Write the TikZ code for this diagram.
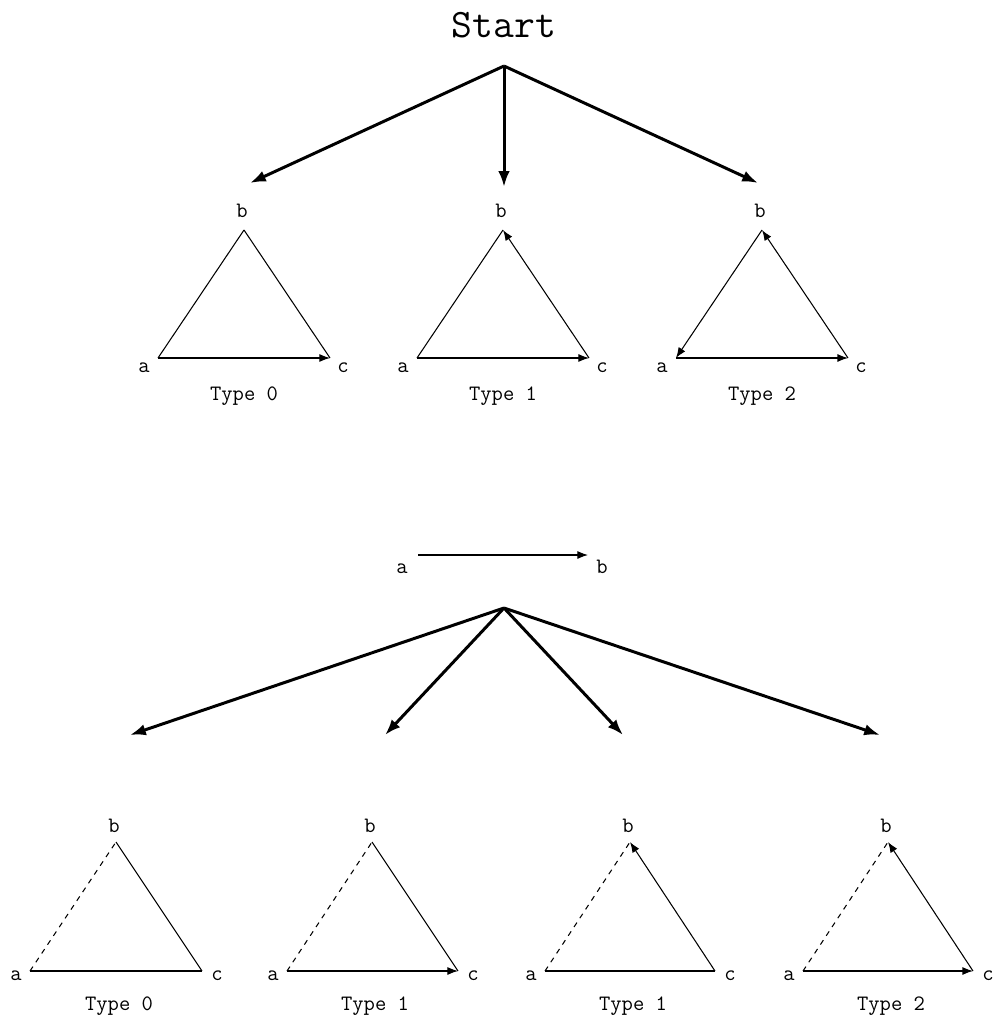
\documentclass[tikz,border=0pt]{standalone}
\usepackage{tikz}
\usetikzlibrary{arrows.meta}

\begin{document}
\begin{tikzpicture}[
  x=0.02cm, y=-0.02cm,
  lbl/.style={font=\fontsize{12.5}{14}\selectfont\ttfamily, anchor=base},
  title/.style={font=\fontsize{23}{27}\selectfont\ttfamily, anchor=base},
  branch/.style={-{Latex[length=9pt,width=6.5pt]}, line width=1.7pt},
  edge/.style={line width=0.6pt},
  dir/.style={edge, -{Latex[length=6pt,width=4.5pt]}},
  unk/.style={edge, dashed}
]
\useasboundingbox (0,0) rectangle (998,1023);

% top: start and the three types
\node[title] (start) at (504,38) {Start};
\coordinate (root1) at (504,66);
\coordinate (tip10) at (250,183);
\coordinate (tip11) at (504,187);
\coordinate (tip12) at (758,183);
\draw[branch] (root1) -- (tip10);
\draw[branch] (root1) -- (tip11);
\draw[branch] (root1) -- (tip12);

\coordinate (ua) at (158,358); \coordinate (ub) at (244,230); \coordinate (uc) at (330,358);
\coordinate (va) at (417,358); \coordinate (vb) at (503,230); \coordinate (vc) at (589,358);
\coordinate (wa) at (676,358); \coordinate (wb) at (762,230); \coordinate (wc) at (848,358);

\node[lbl] (ualbl) at (144,373) {a};
\node[lbl] (ublbl) at (242,218) {b};
\node[lbl] (uclbl) at (343,373) {c};
\node[lbl] (utype) at (244,400) {Type 0};
\node[lbl] (valbl) at (403,373) {a};
\node[lbl] (vblbl) at (501,218) {b};
\node[lbl] (vclbl) at (602,373) {c};
\node[lbl] (vtype) at (503,400) {Type 1};
\node[lbl] (walbl) at (662,373) {a};
\node[lbl] (wblbl) at (760,218) {b};
\node[lbl] (wclbl) at (861,373) {c};
\node[lbl] (wtype) at (762,400) {Type 2};

\draw[edge] (ub) -- (ua);
\draw[edge] (ub) -- (uc);
\draw[dir] (ua) -- (uc);
\draw[edge] (va) -- (vb);
\draw[dir] (va) -- (vc);
\draw[dir] (vc) -- (vb);
\draw[dir] (wb) -- (wa);
\draw[dir] (wa) -- (wc);
\draw[dir] (wc) -- (wb);

% bottom: a -> b given, four types
\node[lbl] (ablbl) at (402,573) {a};
\node[lbl] (bblbl) at (602,573) {b};
\coordinate (abtail) at (418,555);
\coordinate (abtip) at (588,555);
\draw[dir] (abtail) -- (abtip);

\coordinate (root2) at (504,608);
\coordinate (tip20) at (130,735);
\coordinate (tip21) at (385,735);
\coordinate (tip22) at (623,735);
\coordinate (tip23) at (880,735);
\draw[branch] (root2) -- (tip20);
\draw[branch] (root2) -- (tip21);
\draw[branch] (root2) -- (tip22);
\draw[branch] (root2) -- (tip23);

\coordinate (pa) at (30,971);  \coordinate (pb) at (116,842); \coordinate (pc) at (202,971);
\coordinate (qa) at (287,971); \coordinate (qb) at (372,842); \coordinate (qc) at (458,971);
\coordinate (ra) at (545,971); \coordinate (rb) at (630,842); \coordinate (rc) at (715,971);
\coordinate (sa) at (803,971); \coordinate (sb) at (888,842); \coordinate (sc) at (973,971);

\node[lbl] (palbl) at (16,980) {a};
\node[lbl] (pblbl) at (114,832) {b};
\node[lbl] (pclbl) at (217,980) {c};
\node[lbl] (ptype) at (119,1010) {Type 0};
\node[lbl] (qalbl) at (273,980) {a};
\node[lbl] (qblbl) at (370,832) {b};
\node[lbl] (qclbl) at (473,980) {c};
\node[lbl] (qtype) at (375,1010) {Type 1};
\node[lbl] (ralbl) at (531,980) {a};
\node[lbl] (rblbl) at (628,832) {b};
\node[lbl] (rclbl) at (730,980) {c};
\node[lbl] (rtype) at (633,1010) {Type 1};
\node[lbl] (salbl) at (789,980) {a};
\node[lbl] (sblbl) at (886,832) {b};
\node[lbl] (sclbl) at (988,980) {c};
\node[lbl] (stype) at (891,1010) {Type 2};

\draw[unk] (pa) -- (pb);
\draw[edge] (pb) -- (pc);
\draw[edge] (pa) -- (pc);
\draw[unk] (qa) -- (qb);
\draw[edge] (qb) -- (qc);
\draw[dir] (qa) -- (qc);
\draw[unk] (ra) -- (rb);
\draw[dir] (rc) -- (rb);
\draw[edge] (ra) -- (rc);
\draw[unk] (sa) -- (sb);
\draw[dir] (sc) -- (sb);
\draw[dir] (sa) -- (sc);
\end{tikzpicture}
\end{document}
